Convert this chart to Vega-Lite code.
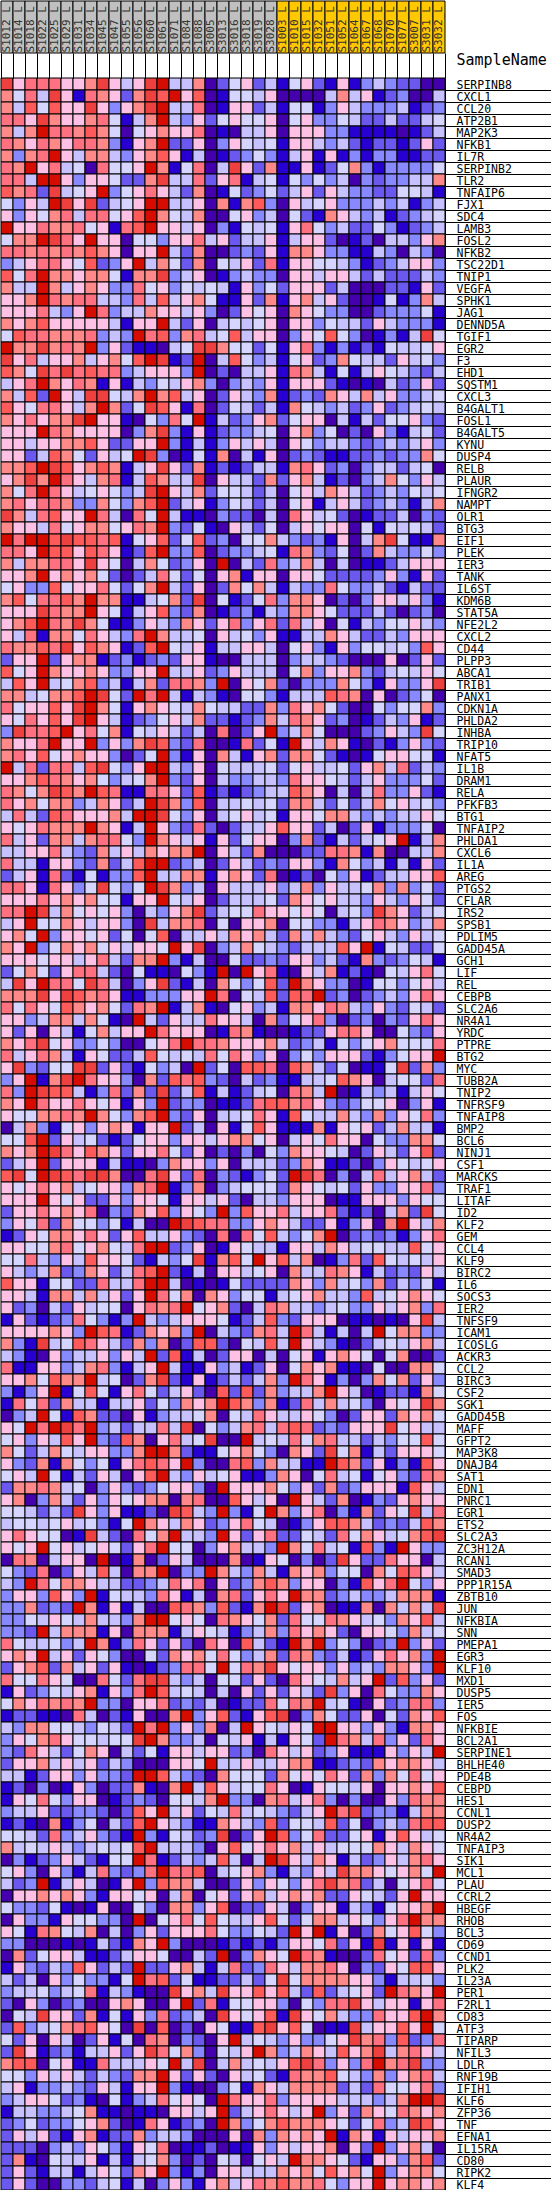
{
  "$schema": "https://vega.github.io/schema/vega-lite/v6.json",
  "padding": 0,
  "background": "white",
  "spacing": 25,
  "bounds": "flush",
  "resolve": {"scale": {"color": "independent", "x": "independent"}},
  "config": {"view": {"stroke": null}, "font": "DejaVu Sans Mono"},
  "datasets": {
    "samples": [
      {"i": 1, "s": "S1012_L", "grp": "A"}, {"i": 2, "s": "S1014_L", "grp": "A"}, {"i": 3, "s": "S1018_L", "grp": "A"},
      {"i": 4, "s": "S1022_L", "grp": "A"}, {"i": 5, "s": "S1025_L", "grp": "A"}, {"i": 6, "s": "S1029_L", "grp": "A"},
      {"i": 7, "s": "S1031_L", "grp": "A"}, {"i": 8, "s": "S1034_L", "grp": "A"}, {"i": 9, "s": "S1045_L", "grp": "A"},
      {"i": 10, "s": "S1047_L", "grp": "A"}, {"i": 11, "s": "S1055_L", "grp": "A"}, {"i": 12, "s": "S1056_L", "grp": "A"},
      {"i": 13, "s": "S1060_L", "grp": "A"}, {"i": 14, "s": "S1061_L", "grp": "A"}, {"i": 15, "s": "S1071_L", "grp": "A"},
      {"i": 16, "s": "S1084_L", "grp": "A"}, {"i": 17, "s": "S1088_L", "grp": "A"}, {"i": 18, "s": "S3005_L", "grp": "A"},
      {"i": 19, "s": "S3013_L", "grp": "A"}, {"i": 20, "s": "S3016_L", "grp": "A"}, {"i": 21, "s": "S3018_L", "grp": "A"},
      {"i": 22, "s": "S3019_L", "grp": "A"}, {"i": 23, "s": "S3028_L", "grp": "A"}, {"i": 24, "s": "S1003_L", "grp": "B"},
      {"i": 25, "s": "S1010_L", "grp": "B"}, {"i": 26, "s": "S1015_L", "grp": "B"}, {"i": 27, "s": "S1032_L", "grp": "B"},
      {"i": 28, "s": "S1051_L", "grp": "B"}, {"i": 29, "s": "S1052_L", "grp": "B"}, {"i": 30, "s": "S1064_L", "grp": "B"},
      {"i": 31, "s": "S1067_L", "grp": "B"}, {"i": 32, "s": "S1068_L", "grp": "B"}, {"i": 33, "s": "S1070_L", "grp": "B"},
      {"i": 34, "s": "S1077_L", "grp": "B"}, {"i": 35, "s": "S3007_L", "grp": "B"}, {"i": 36, "s": "S3031_L", "grp": "B"},
      {"i": 37, "s": "S3032_L", "grp": "B"}
    ],
    "genes": [
      {"g": "SERPINB8", "v": [10,6,8,8,8,6,6,7,10,6,4,6,10,11,4,4,7,0,2,5,6,2,4,1,5,6,2,1,6,1,3,4,3,2,2,0,0]},
      {"g": "CXCL1", "v": [7,5,8,4,10,6,1,8,7,6,2,7,10,9,11,6,9,0,1,5,5,4,6,0,0,0,0,4,7,4,6,1,2,3,0,0,4]},
      {"g": "CCL20", "v": [7,4,9,5,9,6,6,10,6,3,6,7,10,11,4,4,8,0,1,6,6,2,4,1,5,5,1,3,6,4,3,3,3,4,1,2,3]},
      {"g": "ATP2B1", "v": [8,8,6,10,7,6,6,7,8,5,1,4,7,11,4,3,6,2,5,6,5,5,6,0,5,6,3,3,5,4,2,2,4,2,2,4,5]},
      {"g": "MAP2K3", "v": [7,4,7,11,8,8,7,9,7,5,0,5,6,7,6,6,8,0,1,0,4,4,6,0,6,6,6,3,3,1,1,1,1,0,1,2,4]},
      {"g": "NFKB1", "v": [8,7,6,8,7,6,8,8,7,3,1,6,7,11,2,2,6,0,3,6,5,4,5,1,6,6,4,3,4,2,1,2,2,1,2,6,2]},
      {"g": "IL7R", "v": [7,3,7,8,11,6,4,7,7,4,3,6,7,9,6,1,4,0,1,2,3,5,3,1,4,6,1,6,1,3,1,3,3,1,1,2,2]},
      {"g": "SERPINB2", "v": [8,7,11,6,8,4,5,0,8,5,5,6,11,7,1,5,8,0,4,10,6,2,7,1,1,6,1,2,5,7,3,1,3,3,3,3,5]},
      {"g": "TLR2", "v": [8,8,4,11,11,6,3,6,6,5,2,2,7,10,4,4,8,2,6,8,1,4,5,1,5,3,5,3,4,0,3,2,3,3,4,4,7]},
      {"g": "TNFAIP6", "v": [9,7,8,2,10,4,5,6,11,3,5,6,8,6,4,2,7,0,1,5,2,3,5,2,4,6,2,6,4,3,3,2,2,5,5,4,1]},
      {"g": "FJX1", "v": [5,3,6,4,11,10,6,10,2,4,5,6,11,11,4,4,6,0,7,1,7,9,3,0,6,4,5,6,3,3,3,4,3,4,1,3,4]},
      {"g": "SDC4", "v": [6,3,6,5,7,8,4,8,8,5,6,9,11,7,5,4,7,0,0,5,6,3,4,0,5,2,1,7,6,4,3,4,1,2,3,4,5]},
      {"g": "LAMB3", "v": [11,6,6,8,7,7,8,5,6,1,8,9,11,6,6,4,6,0,3,1,5,4,5,1,6,8,5,3,4,2,2,5,3,1,2,3,4]},
      {"g": "FOSL2", "v": [5,7,7,11,10,8,6,11,6,6,0,5,5,3,6,6,8,4,6,2,4,4,6,1,4,6,6,2,0,1,2,0,4,4,3,6,7]},
      {"g": "NFKB2", "v": [8,8,7,8,7,8,7,9,7,6,0,6,6,11,4,2,7,0,0,2,3,2,6,1,7,7,6,3,3,1,1,4,3,0,4,3,0]},
      {"g": "TSC22D1", "v": [3,4,6,8,8,6,5,9,2,3,6,11,4,7,5,2,7,0,5,4,6,2,8,1,6,6,5,5,4,3,1,2,3,4,6,6,3]},
      {"g": "TNIP1", "v": [9,5,8,11,7,7,6,7,7,5,1,7,7,10,3,4,6,0,1,3,4,3,3,0,6,6,4,6,6,4,2,4,2,2,2,4,3]},
      {"g": "VEGFA", "v": [7,4,4,11,7,4,6,7,6,3,3,8,5,6,3,5,4,5,4,1,6,3,5,2,6,6,6,2,4,0,0,0,2,2,1,6,2]},
      {"g": "SPHK1", "v": [6,6,7,11,8,7,8,8,4,4,3,8,4,9,4,6,7,5,1,1,6,2,7,1,6,7,4,6,2,0,0,1,5,1,3,7,4]},
      {"g": "JAG1", "v": [6,6,6,8,4,3,6,11,8,3,4,4,7,6,6,4,6,3,0,2,6,5,6,0,7,6,5,3,3,0,0,2,3,3,3,5,1]},
      {"g": "DENND5A", "v": [7,6,7,9,6,6,6,6,6,4,1,6,6,11,4,2,6,0,4,5,4,5,6,0,6,6,3,5,4,4,2,6,4,3,3,3,1]},
      {"g": "TGIF1", "v": [5,9,8,8,7,7,7,8,3,4,3,11,8,9,3,7,8,4,5,9,4,6,6,0,3,6,5,9,5,3,0,1,3,1,4,10,5]},
      {"g": "EGR2", "v": [11,7,7,10,7,8,7,11,3,6,2,1,1,0,4,5,10,10,7,5,5,2,5,1,6,8,3,1,3,1,2,1,5,4,4,5,6]},
      {"g": "F3", "v": [10,6,8,4,6,6,7,4,6,7,5,9,11,10,1,2,11,0,4,9,5,3,4,1,5,6,2,3,7,5,4,4,2,6,4,5,3]},
      {"g": "EHD1", "v": [9,7,5,10,8,10,8,9,8,8,3,4,6,6,6,3,11,0,2,0,4,4,6,1,8,7,4,1,5,1,4,6,5,4,3,2,4]},
      {"g": "SQSTM1", "v": [4,6,8,11,7,6,8,7,1,6,1,4,3,5,4,6,7,3,0,3,4,3,6,1,6,6,6,2,1,0,1,0,4,2,3,6,2]},
      {"g": "CXCL3", "v": [7,4,9,2,11,6,4,10,10,5,4,7,11,7,9,4,6,0,2,6,4,3,7,1,2,3,2,7,6,4,7,4,6,3,3,4,5]},
      {"g": "B4GALT1", "v": [9,6,5,8,8,6,4,7,11,7,2,5,10,9,6,1,8,0,2,5,4,2,4,1,7,5,4,3,4,2,3,6,2,3,4,5,4]},
      {"g": "FOSL1", "v": [7,6,8,6,7,7,10,11,6,6,1,0,5,3,8,5,11,1,4,2,3,6,7,2,5,6,6,0,4,1,4,2,5,5,6,3,2]},
      {"g": "B4GALT5", "v": [6,6,6,11,8,7,6,6,6,6,0,3,7,10,3,1,6,1,2,3,3,4,5,0,6,7,3,5,0,2,0,6,3,1,4,5,2]},
      {"g": "KYNU", "v": [6,6,4,6,6,7,7,9,6,2,2,6,6,11,3,1,4,1,3,6,4,6,4,0,6,5,3,4,4,3,2,3,4,3,4,6,3]},
      {"g": "DUSP4", "v": [6,6,2,4,9,7,5,2,6,4,5,11,10,3,0,1,5,1,7,0,4,1,6,0,2,3,2,1,1,2,2,3,2,3,3,7,5]},
      {"g": "RELB", "v": [7,7,9,11,10,9,6,7,9,7,1,4,6,10,6,2,7,1,2,1,2,4,4,1,7,8,6,2,3,0,3,4,4,2,4,5,0]},
      {"g": "PLAUR", "v": [6,7,10,7,11,8,6,4,7,8,1,4,9,7,4,4,10,0,6,4,4,2,7,2,6,7,4,1,2,0,3,4,7,5,3,6,4]},
      {"g": "IFNGR2", "v": [7,5,8,11,8,6,4,5,6,5,3,4,10,11,6,4,7,2,5,5,4,2,4,0,5,6,4,7,6,4,2,3,4,3,5,4,5]},
      {"g": "NAMPT", "v": [7,8,6,8,8,7,3,3,7,5,3,7,9,11,2,4,6,1,3,5,4,2,4,0,5,6,1,4,6,4,2,3,4,3,1,4,7]},
      {"g": "OLR1", "v": [10,7,4,8,9,6,6,11,8,4,0,8,5,11,4,1,1,0,3,2,2,0,4,0,8,6,4,5,2,0,1,2,2,4,0,3,2]},
      {"g": "BTG3", "v": [7,6,6,4,8,5,6,7,7,5,6,8,7,11,3,2,5,1,0,6,4,2,5,0,4,6,5,6,6,0,5,1,5,4,5,4,2]},
      {"g": "EIF1", "v": [11,8,11,11,9,10,9,9,8,9,1,5,6,9,2,5,9,2,3,0,5,5,7,4,3,2,3,1,6,0,4,7,10,5,1,1,7]},
      {"g": "PLEK", "v": [8,8,6,11,9,9,6,9,8,6,1,2,9,11,3,3,9,0,2,3,3,4,5,1,8,7,3,2,5,0,2,7,4,3,3,5,3]},
      {"g": "IER3", "v": [7,4,7,7,8,8,6,10,6,5,0,4,7,5,2,3,6,0,11,0,4,2,8,3,4,7,4,0,4,0,1,1,2,4,6,6,6]},
      {"g": "TANK", "v": [6,6,7,11,6,7,6,7,5,2,0,2,4,8,5,2,5,0,6,7,1,6,6,0,6,6,5,2,2,2,2,3,6,3,1,6,2]},
      {"g": "IL6ST", "v": [5,6,3,3,9,5,6,6,8,5,2,5,7,11,4,2,6,0,2,7,5,7,4,1,4,3,3,8,5,3,3,4,2,1,4,2,2]},
      {"g": "KDM6B", "v": [7,9,5,8,8,9,7,11,7,7,1,1,4,5,7,2,10,0,5,1,2,5,8,3,7,7,6,0,2,0,3,6,6,4,6,3,1]},
      {"g": "STAT5A", "v": [6,6,6,10,8,7,7,11,6,5,1,4,6,9,3,2,7,0,1,2,3,1,4,3,7,7,6,5,2,2,2,4,2,0,2,3,0]},
      {"g": "NFE2L2", "v": [6,7,9,11,8,7,10,7,5,1,1,3,6,4,3,7,6,2,6,8,3,6,8,2,8,4,6,0,5,1,4,3,5,5,6,4,3]},
      {"g": "CXCL2", "v": [6,4,8,1,7,7,5,8,6,4,3,8,11,7,4,4,5,0,6,4,5,3,6,1,1,4,4,7,6,4,2,2,4,3,6,6,6]},
      {"g": "CD44", "v": [8,7,7,9,8,10,6,9,7,6,1,2,9,11,5,4,6,1,4,4,6,6,4,0,5,6,3,1,6,3,5,5,4,5,3,9,6]},
      {"g": "PLPP3", "v": [2,6,6,11,2,6,7,7,1,2,3,1,2,3,2,6,6,1,0,0,4,4,4,0,3,4,4,3,2,0,0,0,6,0,2,6,2]},
      {"g": "ABCA1", "v": [9,5,6,11,7,6,6,7,6,3,3,6,6,11,4,4,6,2,3,6,4,4,4,0,5,7,3,6,6,7,3,2,4,5,4,6,5]},
      {"g": "TRIB1", "v": [4,9,6,11,4,5,7,9,3,4,1,4,7,2,8,8,7,3,11,0,6,5,7,2,0,3,3,3,7,5,3,1,6,3,3,6,10]},
      {"g": "PANX1", "v": [7,7,4,5,7,7,9,11,10,5,2,11,8,11,4,1,4,3,1,0,5,5,3,1,4,4,4,9,8,7,0,6,0,2,3,5,0]},
      {"g": "CDKN1A", "v": [8,5,6,6,9,6,10,11,7,5,1,6,7,6,5,4,7,5,4,4,2,2,7,3,8,6,7,5,2,0,0,5,3,5,5,7,3]},
      {"g": "PHLDA2", "v": [6,5,8,6,9,6,10,11,6,4,1,2,3,5,6,4,7,2,2,1,2,3,7,4,8,7,6,2,3,0,1,2,4,3,6,1,2]},
      {"g": "INHBA", "v": [3,10,8,8,9,11,6,8,5,7,1,5,4,6,4,2,4,0,8,0,2,6,11,3,4,7,5,0,0,0,2,3,6,4,3,10,5]},
      {"g": "TRIP10", "v": [7,6,6,8,11,6,6,11,3,6,3,7,10,9,3,2,8,0,0,1,8,2,5,1,11,6,4,7,6,1,0,2,1,3,6,3,2]},
      {"g": "NFAT5", "v": [7,8,6,9,5,6,7,6,6,3,0,2,5,11,3,1,6,0,7,4,1,6,7,2,7,7,5,2,1,0,1,5,6,6,5,5,1]},
      {"g": "IL1B", "v": [11,4,8,2,8,8,4,9,10,5,3,6,11,11,4,3,6,0,5,4,4,4,5,2,5,6,4,4,5,2,6,7,4,8,2,4,3]},
      {"g": "DRAM1", "v": [6,6,7,9,8,7,6,7,5,3,4,5,7,11,3,2,6,0,4,3,3,4,4,3,8,6,6,5,4,2,4,6,3,3,3,5,2]},
      {"g": "RELA", "v": [8,7,5,7,10,9,7,11,9,8,1,1,8,8,6,2,9,1,2,1,2,3,4,4,9,7,6,0,4,0,4,8,3,3,6,2,1]},
      {"g": "PFKFB3", "v": [8,6,7,5,7,7,3,4,7,6,2,4,11,10,7,3,9,0,4,4,5,4,5,2,7,7,4,2,5,2,4,7,5,6,4,5,3]},
      {"g": "BTG1", "v": [4,8,4,2,9,8,6,6,6,7,4,11,11,10,5,3,6,0,4,5,6,4,5,1,6,6,5,7,7,4,3,4,3,4,4,6,5]},
      {"g": "TNFAIP2", "v": [6,5,6,8,7,7,7,11,7,6,1,4,11,6,3,2,8,2,0,2,4,4,6,9,6,6,2,4,0,2,6,1,3,3,3,5,0]},
      {"g": "PHLDA1", "v": [8,4,6,2,7,7,4,7,8,8,5,3,11,7,6,4,6,1,6,2,5,6,6,0,3,7,2,1,4,2,4,5,6,11,1,4,7]},
      {"g": "CXCL6", "v": [4,4,6,6,8,4,3,2,7,4,6,4,7,6,7,7,11,0,6,4,2,7,0,0,0,2,2,8,8,7,1,7,0,0,4,4,7]},
      {"g": "IL1A", "v": [8,4,4,1,6,6,3,2,7,2,4,9,11,11,2,3,4,0,2,6,4,2,3,2,6,6,3,1,7,5,3,4,1,4,1,6,2]},
      {"g": "AREG", "v": [2,4,6,1,8,2,1,5,1,3,3,9,11,4,4,7,7,1,6,7,6,2,8,0,1,2,0,5,3,6,1,2,4,4,6,6,9]},
      {"g": "PTGS2", "v": [8,8,6,1,8,6,3,5,10,5,3,5,11,10,7,3,4,0,6,4,4,4,6,3,4,7,3,6,4,4,5,7,3,7,3,5,2]},
      {"g": "CFLAR", "v": [6,6,6,8,6,7,6,7,5,5,1,6,6,11,5,4,6,0,2,4,4,4,5,2,7,6,5,6,4,4,3,6,4,3,6,5,2]},
      {"g": "IRS2", "v": [8,8,11,10,4,7,5,6,5,6,3,0,4,3,6,7,10,2,4,5,5,8,6,6,5,6,5,0,4,5,3,10,7,6,2,4,5]},
      {"g": "SPSB1", "v": [4,6,11,5,5,7,6,4,6,6,3,0,10,4,7,7,8,0,5,0,6,6,7,0,5,5,3,3,1,4,6,8,7,6,3,4,7]},
      {"g": "PDLIM5", "v": [6,7,5,11,3,6,6,5,6,2,5,0,5,9,0,4,4,6,4,7,6,7,4,2,7,4,7,4,3,2,5,6,4,3,6,4,5]},
      {"g": "GADD45A", "v": [7,6,11,3,5,7,6,7,5,6,4,6,6,5,11,6,10,0,3,4,7,5,4,3,2,4,4,4,9,6,11,1,5,4,2,2,5]},
      {"g": "GCH1", "v": [6,6,6,5,6,6,4,6,8,4,2,7,7,11,3,1,4,0,0,5,2,2,3,2,6,6,3,4,2,1,7,3,2,3,5,4,1]},
      {"g": "LIF", "v": [2,5,7,5,2,6,8,8,4,2,0,5,1,1,0,5,3,1,11,0,11,6,8,1,0,6,4,7,1,2,1,0,5,4,6,8,5]},
      {"g": "REL", "v": [4,10,6,11,8,8,5,10,8,4,0,3,6,10,2,1,4,0,7,5,3,5,9,2,11,7,6,3,3,0,1,5,5,3,5,6,4]},
      {"g": "CEBPB", "v": [7,7,7,10,6,10,9,7,8,6,1,1,3,3,3,6,6,11,8,0,5,4,9,2,9,8,11,2,3,0,2,3,4,3,6,8,6]},
      {"g": "SLC2A6", "v": [8,5,8,6,5,9,7,6,7,5,2,8,7,11,1,4,7,1,0,5,6,3,4,1,7,7,6,8,7,4,3,6,3,2,5,4,2]},
      {"g": "NR4A1", "v": [6,6,3,4,7,7,4,7,5,1,0,11,4,2,6,4,4,8,6,6,4,0,7,2,5,6,8,3,0,2,3,0,3,2,6,8,6]},
      {"g": "YRDC", "v": [6,2,6,0,6,4,1,5,7,4,6,6,11,8,6,6,6,0,1,8,7,1,0,0,1,2,2,6,8,8,6,0,0,5,3,2,6]},
      {"g": "PTPRE", "v": [7,6,8,10,5,6,3,3,5,3,0,0,5,6,8,11,8,8,7,6,6,6,7,4,2,3,4,1,5,3,5,6,7,5,5,5,8]},
      {"g": "BTG2", "v": [8,4,6,8,7,4,1,6,5,2,2,4,9,5,4,5,4,8,5,8,6,3,6,0,3,5,3,6,6,6,2,1,3,5,6,6,11]},
      {"g": "MYC", "v": [6,10,3,2,5,5,10,10,2,6,2,1,5,3,4,0,11,2,5,0,9,9,8,0,9,7,4,2,5,0,1,1,5,10,2,7,3]},
      {"g": "TUBB2A", "v": [3,6,11,1,7,10,11,8,6,6,3,0,7,2,9,8,9,3,2,0,4,2,3,1,1,4,4,5,9,7,6,0,4,5,5,2,8]},
      {"g": "TNIP2", "v": [8,3,11,10,9,9,4,1,3,8,2,7,2,10,2,4,9,1,4,1,2,4,5,0,8,7,4,11,0,1,4,3,4,1,4,6,5]},
      {"g": "TNFRSF9", "v": [7,6,11,8,6,6,8,6,5,6,1,6,3,11,2,3,3,0,1,1,2,8,9,9,7,8,6,3,2,3,5,5,6,0,3,6,1]},
      {"g": "TNFAIP8", "v": [6,5,5,7,7,8,7,11,7,5,3,7,9,11,3,2,6,0,4,4,5,8,6,1,9,5,4,4,7,4,3,7,3,6,5,8,3]},
      {"g": "BMP2", "v": [0,4,7,3,1,5,6,3,6,7,6,1,6,6,11,2,4,0,6,1,5,9,6,1,1,1,7,1,6,5,6,2,4,7,4,4,1]},
      {"g": "BCL6", "v": [5,5,9,11,2,6,4,5,2,1,2,5,6,6,3,6,6,4,6,7,7,5,6,0,4,6,5,8,6,6,0,5,3,3,7,7,5]},
      {"g": "NINJ1", "v": [7,6,7,11,10,8,6,9,7,6,2,6,6,8,5,2,6,0,2,0,3,0,5,3,7,6,6,5,4,0,2,6,4,2,6,9,2]},
      {"g": "CSF1", "v": [2,4,6,11,2,6,6,6,1,4,1,1,0,3,7,6,6,3,6,0,4,4,4,2,3,7,6,1,1,2,0,3,6,5,4,5,6]},
      {"g": "MARCKS", "v": [9,10,5,11,10,9,8,10,10,7,0,0,8,10,6,2,8,0,3,2,1,3,5,2,11,10,8,0,3,0,4,8,4,6,7,4,2]},
      {"g": "TRAF1", "v": [6,5,6,8,6,7,4,5,6,6,3,7,8,11,1,3,7,0,3,4,5,5,5,2,7,6,5,4,5,2,6,3,3,6,6,8,3]},
      {"g": "LITAF", "v": [6,6,6,11,6,5,6,2,2,6,3,6,6,5,1,6,6,4,6,2,0,4,4,3,6,6,6,0,1,1,6,6,6,3,6,5,5]},
      {"g": "ID2", "v": [2,6,6,8,6,7,6,8,0,3,2,7,6,9,3,6,5,3,11,3,9,6,6,8,4,6,6,8,2,1,2,0,4,7,2,10,5]},
      {"g": "KLF2", "v": [3,6,5,8,2,7,5,5,3,5,1,4,0,0,11,10,9,8,8,3,3,6,7,6,4,2,2,6,1,3,6,0,7,11,6,4,7]},
      {"g": "GEM", "v": [1,2,6,5,7,7,6,8,6,2,6,9,4,4,6,3,2,0,8,0,8,5,9,4,3,5,7,11,0,2,3,2,3,1,3,6,8]},
      {"g": "CCL4", "v": [6,6,5,5,7,8,5,6,7,5,4,8,11,11,2,3,6,0,1,6,5,4,4,1,6,6,4,7,6,4,5,5,4,4,9,5,6]},
      {"g": "KLF9", "v": [5,5,8,4,3,6,4,9,6,6,5,2,1,4,3,5,10,1,7,9,5,11,6,9,4,7,0,1,3,8,2,9,5,4,5,4,6]},
      {"g": "BIRC2", "v": [6,4,3,4,7,2,3,7,6,2,4,8,9,11,2,1,4,0,6,6,4,5,6,0,7,4,4,8,7,6,1,4,2,3,2,6,4]},
      {"g": "IL6", "v": [9,6,6,1,5,5,2,2,8,4,4,8,11,11,4,0,1,0,1,5,2,2,2,2,7,6,3,7,4,5,3,7,2,4,3,5,1]},
      {"g": "SOCS3", "v": [6,6,4,1,7,7,4,7,4,6,2,6,11,8,5,7,0,7,6,3,5,5,1,4,5,6,7,4,4,3,9,4,5,6,7,6,5]},
      {"g": "IER2", "v": [6,2,3,0,4,2,6,4,5,5,0,6,8,7,8,11,5,6,7,2,0,4,8,7,4,4,3,4,5,3,3,6,4,6,7,3,8]},
      {"g": "TNFSF9", "v": [1,6,2,1,2,3,8,5,3,1,3,11,4,3,4,6,6,6,5,1,2,4,9,3,2,6,6,6,0,1,1,0,1,0,6,10,4]},
      {"g": "ICAM1", "v": [6,6,6,6,7,6,3,11,9,8,1,2,7,6,7,3,11,0,4,3,2,7,8,4,11,8,4,1,4,0,4,11,5,7,7,3,3]},
      {"g": "ICOSLG", "v": [7,3,1,10,4,5,9,8,6,4,2,7,3,7,0,2,9,9,2,0,5,4,9,4,11,6,4,3,1,0,2,4,5,4,6,7,4]},
      {"g": "ACKR3", "v": [4,3,1,0,6,3,4,4,6,3,6,4,11,2,9,1,4,0,2,6,6,0,4,0,5,6,1,6,7,6,5,0,5,7,0,0,2]},
      {"g": "CCL2", "v": [8,1,1,6,6,3,4,7,8,3,1,4,6,11,4,1,1,6,3,4,1,2,6,0,5,7,6,7,1,1,0,5,0,0,7,7,5]},
      {"g": "BIRC3", "v": [6,6,7,5,9,7,7,11,4,5,0,2,7,10,2,1,6,1,2,4,2,4,7,3,11,8,6,1,3,0,3,7,5,7,2,6,3]},
      {"g": "CSF2", "v": [3,1,3,6,11,1,5,9,5,1,6,8,5,2,4,6,2,0,9,2,9,2,7,3,4,4,7,11,6,4,0,1,2,2,1,7,5]},
      {"g": "SGK1", "v": [1,8,5,8,2,7,4,4,1,4,4,6,2,5,3,7,6,7,11,9,7,3,7,1,2,8,4,7,4,5,3,0,6,5,6,10,7]},
      {"g": "GADD45B", "v": [0,3,4,11,5,1,9,7,2,2,0,6,1,3,4,4,5,7,0,5,4,8,6,4,4,6,5,3,0,2,6,6,2,7,6,7,5]},
      {"g": "MAFF", "v": [6,5,11,8,11,10,8,11,3,4,2,4,4,8,4,10,0,5,3,4,7,8,4,8,9,8,2,3,2,6,6,6,10,5,6,4,4]},
      {"g": "GFPT2", "v": [5,6,3,6,4,9,6,11,3,2,9,7,0,6,8,4,5,10,0,0,11,4,5,4,8,5,7,8,4,4,2,4,3,5,5,9,5]},
      {"g": "MAP3K8", "v": [7,5,2,4,7,5,4,6,6,3,3,7,11,11,7,2,1,1,5,6,7,5,3,0,7,6,2,10,5,7,1,4,2,6,6,6,5]},
      {"g": "DNAJB4", "v": [6,3,2,7,1,7,5,3,5,1,6,8,9,8,6,11,3,0,0,8,9,3,7,4,4,1,1,11,9,7,2,6,1,3,1,9,6]},
      {"g": "SAT1", "v": [5,6,4,11,5,1,4,2,6,4,0,6,9,11,4,3,6,4,5,6,1,1,3,7,6,0,5,8,4,5,1,5,6,3,2,8,7]},
      {"g": "EDN1", "v": [2,7,7,8,7,4,5,0,3,6,3,2,3,5,6,6,3,0,11,6,6,6,7,5,3,6,2,7,2,3,6,6,6,1,9,6,4]},
      {"g": "PNRC1", "v": [6,7,0,3,7,4,2,6,3,6,5,6,7,7,0,7,8,0,0,9,6,4,6,0,11,6,4,2,7,0,1,3,2,6,7,6,6]},
      {"g": "EGR1", "v": [5,5,4,2,4,2,10,6,3,6,1,1,2,0,10,9,4,3,11,3,1,5,11,7,3,6,8,0,3,1,7,2,6,5,10,4,8]},
      {"g": "ETS2", "v": [4,5,5,4,5,6,4,5,3,1,5,11,7,6,4,7,6,2,3,6,8,5,4,0,1,3,6,9,9,7,4,2,3,2,4,9,7]},
      {"g": "SLC2A3", "v": [6,8,6,5,5,0,1,10,4,2,0,8,5,7,11,4,4,3,11,6,2,6,8,2,2,5,4,2,8,5,7,6,4,5,7,9,10]},
      {"g": "ZC3H12A", "v": [6,5,6,11,5,6,4,5,6,5,2,6,8,11,5,5,0,3,6,7,4,4,3,11,7,5,8,4,5,1,9,3,1,11,6,3,3]},
      {"g": "RCAN1", "v": [0,8,7,0,4,6,6,0,11,0,1,7,0,2,6,4,0,0,0,7,0,1,6,5,0,3,0,2,10,6,2,2,8,6,6,0,4]},
      {"g": "SMAD3", "v": [5,3,2,8,0,2,6,4,9,4,0,7,7,11,0,3,3,11,7,4,3,7,4,1,7,6,7,3,5,5,0,7,5,9,8,6,4]},
      {"g": "PPP1R15A", "v": [4,3,11,8,5,7,7,6,4,4,2,2,3,4,8,6,8,0,6,2,3,7,9,7,3,6,6,0,3,1,9,6,8,11,5,3,6]},
      {"g": "ZBTB10", "v": [3,6,6,3,9,6,3,11,1,5,4,4,3,8,6,1,4,0,7,8,2,6,8,6,11,7,7,2,3,4,3,3,4,7,7,7,1]},
      {"g": "JUN", "v": [3,3,7,2,3,2,11,7,1,6,1,4,0,0,9,8,7,3,9,2,1,7,11,10,2,6,7,0,1,1,7,0,7,4,7,4,10]},
      {"g": "NFKBIA", "v": [3,3,5,4,6,5,4,7,4,4,3,7,11,11,5,6,5,0,8,7,6,5,7,2,8,5,5,8,7,6,4,5,3,7,6,9,4]},
      {"g": "SNN", "v": [3,3,2,11,4,7,7,7,1,6,0,7,7,7,1,4,6,5,4,1,3,4,7,3,8,6,7,6,2,0,6,6,5,3,7,4,5]},
      {"g": "PMEPA1", "v": [8,5,4,4,5,3,4,11,7,1,3,8,6,2,6,2,0,8,6,0,9,4,2,1,11,7,11,3,5,3,0,2,3,11,3,6,2]},
      {"g": "EGR3", "v": [6,7,6,11,4,6,2,6,5,3,0,0,5,2,7,6,7,5,8,5,3,4,7,2,8,7,3,2,4,1,2,6,8,6,7,3,11]},
      {"g": "KLF10", "v": [2,6,7,9,2,7,4,6,2,6,1,0,1,2,3,8,8,5,11,5,8,7,10,6,5,6,6,3,6,3,4,3,7,7,6,3,11]},
      {"g": "MXD1", "v": [8,5,5,8,6,5,0,0,8,5,2,8,10,10,4,3,4,0,5,5,2,6,2,0,8,6,5,4,7,4,6,11,2,9,3,6,2]},
      {"g": "DUSP5", "v": [1,6,2,3,5,4,6,7,1,6,3,8,11,9,4,5,4,0,4,0,6,2,6,2,6,4,2,10,3,6,0,8,5,3,3,7,6]},
      {"g": "IER5", "v": [5,7,6,8,7,8,7,11,3,3,0,6,6,8,2,3,2,4,0,1,2,2,8,5,8,7,11,4,5,1,0,6,2,3,8,8,3]},
      {"g": "FOS", "v": [1,2,2,1,1,0,8,4,0,2,1,6,0,0,7,11,3,6,9,2,1,6,9,10,0,3,7,5,2,2,6,0,5,2,7,6,9]},
      {"g": "NFKBIE", "v": [4,3,7,7,5,5,4,3,5,4,2,11,8,11,3,6,3,7,0,4,11,6,5,4,6,5,11,11,6,6,3,6,3,1,7,7,6]},
      {"g": "BCL2A1", "v": [3,6,5,7,8,6,5,5,4,5,5,10,11,7,3,3,4,0,5,4,6,1,4,1,6,5,2,11,8,7,4,8,3,6,2,8,6]},
      {"g": "SERPINE1", "v": [3,2,8,6,4,2,5,7,6,0,4,2,5,1,6,6,4,6,6,2,3,0,8,6,4,6,2,3,6,1,1,1,6,3,6,4,11]},
      {"g": "BHLHE40", "v": [2,6,6,7,4,6,4,6,2,4,3,0,0,0,6,6,5,11,4,4,6,4,4,6,7,7,1,1,2,3,2,7,6,7,7,6,4]},
      {"g": "PDE4B", "v": [4,4,1,2,6,6,3,6,3,3,2,11,11,9,4,3,2,0,7,5,5,5,2,7,5,6,5,8,6,2,7,3,7,5,8,5,6]},
      {"g": "CEBPD", "v": [1,2,0,3,0,1,6,3,0,2,2,7,1,0,7,11,4,9,6,4,5,5,8,6,0,1,6,5,5,4,6,0,6,6,7,6,9]},
      {"g": "HES1", "v": [1,6,5,8,5,3,6,6,0,1,2,3,2,0,5,5,4,7,11,3,3,0,7,8,4,6,8,3,0,3,0,0,6,3,8,7,7]},
      {"g": "CCNL1", "v": [3,4,4,6,2,2,3,3,2,0,2,9,6,11,4,6,2,5,4,8,4,5,4,3,2,4,6,11,8,10,2,3,3,1,4,7,7]},
      {"g": "DUSP2", "v": [1,2,1,0,7,1,3,5,0,4,2,9,11,6,4,3,1,1,7,6,4,3,9,2,5,5,4,9,2,5,0,3,4,3,8,9,9]},
      {"g": "NR4A2", "v": [5,5,4,2,8,3,4,6,3,2,1,11,3,1,5,4,2,3,10,0,2,6,11,9,3,5,8,2,2,5,6,1,6,9,6,4,5]},
      {"g": "TNFAIP3", "v": [7,4,5,4,6,4,3,4,5,4,5,9,11,4,4,4,3,0,6,9,5,6,8,6,7,4,6,4,5,5,5,7,6,4,7,6,5]},
      {"g": "SIK1", "v": [0,3,1,2,3,6,4,2,1,5,5,11,8,1,2,4,3,4,9,4,0,4,11,10,6,4,7,6,1,4,2,3,6,4,7,8,6]},
      {"g": "MCL1", "v": [5,6,3,0,6,3,1,4,8,3,2,3,8,11,8,8,9,0,4,5,6,7,3,1,4,3,6,4,10,7,7,6,5,6,7,5,11]},
      {"g": "PLAU", "v": [4,2,3,11,1,4,6,4,0,1,6,11,3,9,7,7,4,0,0,2,6,3,6,5,3,6,8,10,7,8,2,4,0,5,6,8,5]},
      {"g": "CCRL2", "v": [0,6,6,7,6,7,6,3,1,6,6,5,6,0,4,7,0,5,6,2,6,7,4,6,7,6,7,2,2,6,5,4,2,6,11,6,6]},
      {"g": "HBEGF", "v": [5,3,3,2,5,1,0,1,6,0,0,5,3,0,7,7,3,6,9,0,2,2,6,4,0,3,6,6,1,4,3,1,5,6,6,7,11]},
      {"g": "RHOB", "v": [0,6,3,3,1,6,5,5,3,3,0,11,0,5,6,8,5,9,5,4,4,6,9,5,2,5,7,7,4,6,5,3,6,8,11,7,7]},
      {"g": "BCL3", "v": [6,5,1,8,7,5,4,7,0,4,0,3,6,2,6,6,6,8,5,3,3,5,4,2,11,6,11,1,6,0,2,7,5,6,9,5,3]},
      {"g": "CD69", "v": [3,3,0,0,0,1,0,1,4,2,1,7,6,11,3,0,0,0,1,2,1,2,1,3,6,6,5,8,2,6,1,10,1,6,1,6,1]},
      {"g": "CCND1", "v": [0,7,2,5,6,6,4,1,1,2,4,6,6,5,0,0,4,2,11,0,3,7,6,5,11,8,7,1,0,0,2,8,5,6,2,8,3]},
      {"g": "PLK2", "v": [1,6,3,2,4,3,9,6,2,4,2,11,2,2,6,7,4,1,4,8,2,3,8,6,4,7,7,8,6,0,3,2,6,5,9,9,6]},
      {"g": "IL23A", "v": [4,2,4,0,6,3,5,3,3,1,5,11,8,9,2,5,1,1,2,2,4,2,5,10,5,7,7,7,7,6,6,3,1,4,4,5,3]},
      {"g": "PER1", "v": [3,4,4,5,3,4,5,8,1,4,3,1,0,0,10,6,7,4,10,6,6,9,6,9,4,2,9,2,4,5,6,2,11,8,7,6,11]},
      {"g": "F2RL1", "v": [2,0,6,3,0,2,3,0,0,6,7,6,0,0,6,11,2,8,1,5,5,6,6,3,0,5,3,8,8,10,6,4,6,6,1,6,8]},
      {"g": "CD83", "v": [0,5,4,10,6,6,2,7,1,5,1,6,3,8,2,3,4,0,10,6,5,6,9,1,10,6,5,7,4,3,3,8,6,6,9,11,7]},
      {"g": "ATF3", "v": [2,9,3,4,5,7,8,9,6,5,0,10,0,9,0,2,0,6,5,1,1,9,10,6,9,5,0,1,1,10,4,6,6,9,6,11,5]},
      {"g": "TIPARP", "v": [5,2,6,0,6,4,0,2,6,1,5,0,8,7,0,3,2,0,6,11,4,5,4,3,6,3,3,5,6,10,7,8,3,9,2,3,8]},
      {"g": "NFIL3", "v": [2,10,6,1,2,3,1,4,4,6,2,6,10,8,5,7,3,0,5,4,6,11,7,3,4,7,6,4,9,6,7,10,4,7,8,6,4]},
      {"g": "LDLR", "v": [7,9,9,0,5,6,1,1,8,4,4,4,6,5,11,4,10,0,4,7,4,5,4,6,9,10,8,3,6,3,8,11,7,8,10,3,3]},
      {"g": "RNF19B", "v": [5,5,3,6,4,6,4,2,4,3,2,7,7,11,6,2,6,2,0,6,4,5,2,1,8,7,7,9,5,4,3,7,3,6,7,8,4]},
      {"g": "IFIH1", "v": [4,6,1,3,3,4,3,2,6,4,1,6,6,11,3,1,0,0,3,5,1,7,6,4,7,7,7,7,2,4,2,8,5,5,6,8,3]},
      {"g": "KLF6", "v": [3,4,6,6,5,2,3,1,0,5,1,3,4,8,5,6,5,0,11,8,6,6,8,3,6,6,6,6,4,4,4,3,4,7,11,11,10]},
      {"g": "ZFP36", "v": [1,4,4,3,3,4,5,7,1,1,0,1,1,0,6,6,4,6,11,2,4,6,8,6,4,6,11,3,6,2,7,6,5,8,7,6,7]},
      {"g": "TNF", "v": [2,3,5,2,3,3,5,6,7,2,0,1,8,6,1,2,3,0,11,7,3,5,7,9,7,7,7,6,5,2,5,8,3,4,10,9,6]},
      {"g": "EFNA1", "v": [2,6,4,6,2,1,6,7,1,2,2,7,3,4,4,3,0,0,0,6,0,7,3,7,6,7,6,11,1,7,6,1,6,4,6,6,7]},
      {"g": "IL15RA", "v": [2,2,2,0,3,4,3,6,5,3,1,6,5,8,0,1,1,2,0,1,1,6,3,6,4,6,6,7,0,6,2,11,3,6,7,4,0]},
      {"g": "CD80", "v": [2,7,1,0,5,4,4,6,1,4,1,4,5,7,3,0,2,0,5,4,0,5,6,4,11,7,7,6,5,2,1,6,6,3,7,9,2]},
      {"g": "RIPK2", "v": [2,6,2,1,4,4,1,4,6,5,2,7,6,11,3,1,3,0,6,6,4,4,4,7,6,7,5,9,6,7,5,11,3,6,7,7,5]},
      {"g": "KLF4", "v": [2,6,2,0,0,3,3,2,4,5,1,4,0,3,6,3,1,6,7,4,6,8,7,9,7,7,8,5,3,6,6,11,6,7,7,6,7]}
    ]
  },
  "vconcat": [
    {
      "width": 444,
      "height": 52,
      "data": {"name": "samples"},
      "mark": {"type": "rect", "stroke": "black", "strokeWidth": 1},
      "encoding": {
        "x": {
          "field": "s",
          "type": "nominal",
          "sort": {"field": "i", "op": "min"},
          "title": null,
          "axis": {
            "orient": "bottom",
            "labelAngle": -90,
            "labelAlign": "left",
            "labelBaseline": "middle",
            "labelPadding": -1,
            "ticks": false,
            "domain": false,
            "labelFont": "DejaVu Sans Mono",
            "labelFontSize": 11,
            "labelColor": "#333333",
            "zindex": 1
          }
        },
        "color": {
          "field": "grp",
          "type": "nominal",
          "scale": {"domain": ["A", "B"], "range": ["#C0C0C0", "#FFC800"]},
          "legend": null
        }
      }
    },
    {
      "width": 444,
      "height": 2112,
      "data": {"name": "genes"},
      "transform": [
        {"flatten": ["v"]},
        {"window": [{"op": "row_number", "as": "i"}], "groupby": ["g"]},
        {"lookup": "i", "from": {"data": {"name": "samples"}, "key": "i", "fields": ["s"]}},
        {"filter": "isValid(datum.s)"}
      ],
      "mark": {"type": "rect", "stroke": "black", "strokeWidth": 1},
      "encoding": {
        "x": {
          "field": "s",
          "type": "nominal",
          "sort": {"field": "i", "op": "min"},
          "title": null,
          "axis": {
            "orient": "top",
            "labels": false,
            "domain": false,
            "ticks": true,
            "tickBand": "extent",
            "tickSize": 25,
            "tickColor": "black",
            "tickWidth": 1
          }
        },
        "y": {
          "field": "g",
          "type": "nominal",
          "sort": null,
          "title": "SampleName",
          "axis": {
            "orient": "right",
            "domain": true,
            "domainColor": "black",
            "ticks": true,
            "tickColor": "black",
            "tickWidth": 1,
            "tickSize": 107,
            "tickOffset": 6,
            "labelOffset": -2,
            "labelPadding": -96,
            "labelAlign": "left",
            "labelBaseline": "alphabetic",
            "labelFont": "DejaVu Sans Mono",
            "labelFontSize": 11.5,
            "labelColor": "black",
            "titleAngle": 0,
            "titleAlign": "left",
            "titleBaseline": "alphabetic",
            "titleX": 11,
            "titleY": -14,
            "titleFont": "DejaVu Sans Mono",
            "titleFontSize": 15,
            "titleFontWeight": "normal",
            "titleColor": "black"
          }
        },
        "color": {
          "field": "v",
          "type": "ordinal",
          "scale": {
            "domain": [0, 1, 2, 3, 4, 5, 6, 7, 8, 9, 10, 11],
            "range": ["#4500AD", "#2700D1", "#6B58EF", "#8888FF", "#C7C1FF", "#D5D5FF", "#FFC0E5", "#FF8989", "#FF7080", "#FF5A5A", "#EF4040", "#D60C00"]
          },
          "legend": null
        }
      }
    }
  ]
}
